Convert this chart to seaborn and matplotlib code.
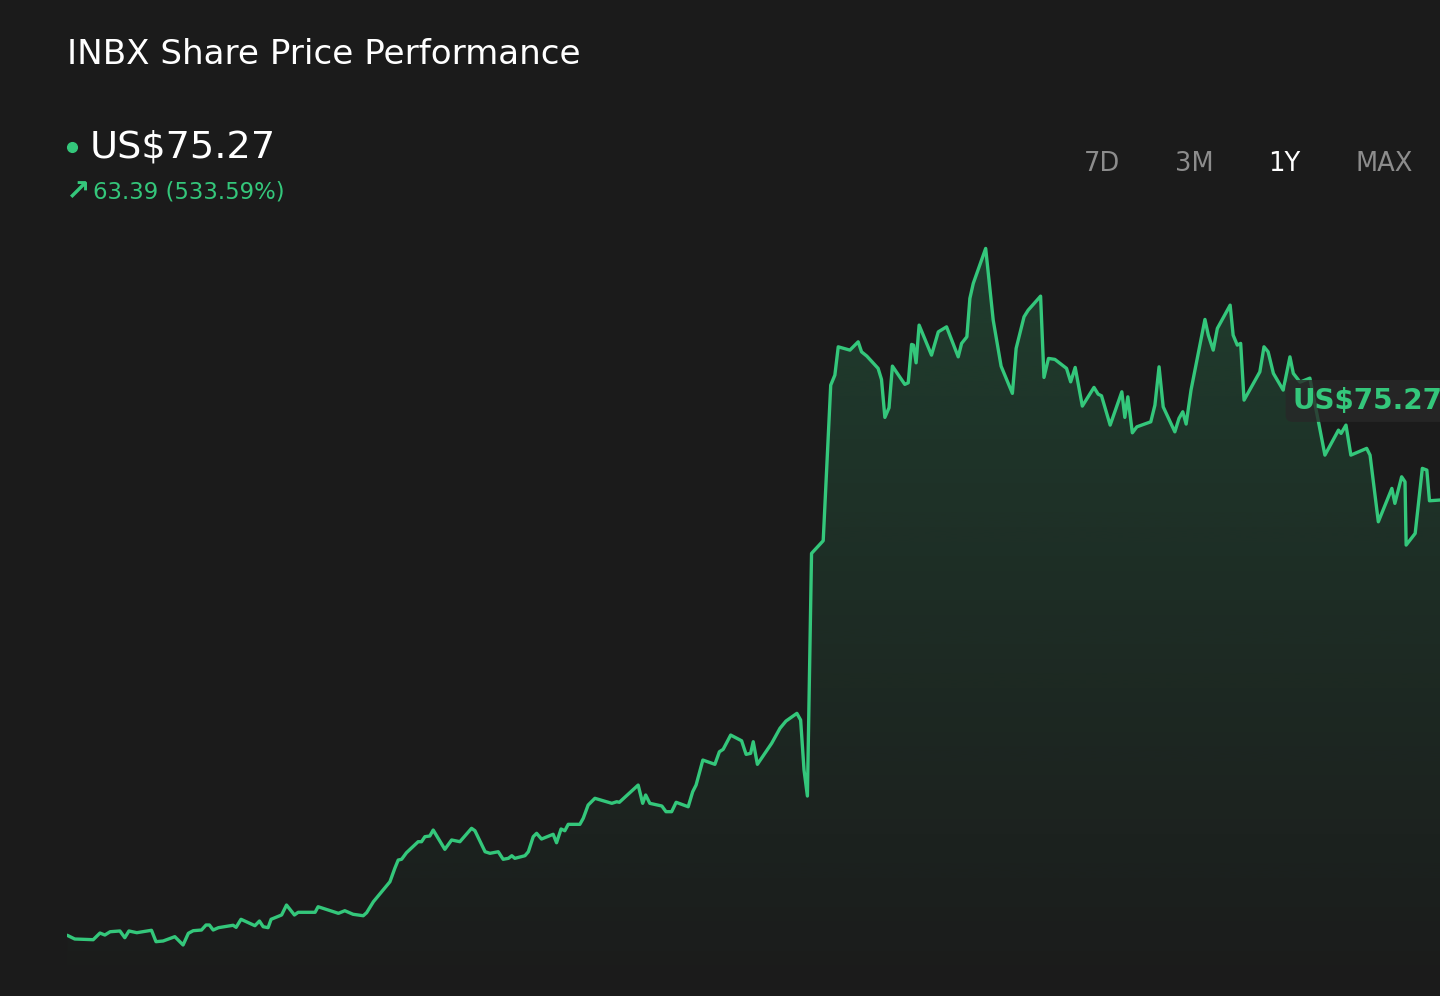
import numpy as np
import pandas as pd
import matplotlib
import matplotlib.pyplot as plt
import seaborn as sns
from matplotlib.lines import Line2D

ticker = "INBX"
last_price = 75.27
change = 63.39
change_pct = 533.59
ranges = ["7D", "3M", "1Y", "MAX"]
active_range = "1Y"

# day offset within the 1Y window
days = [0, 2.0, 6.9, 8.7, 10.0, 11.4, 14.0, 15.3, 16.4, 18.5,
        22.4, 23.6, 25.5, 28.6, 30.8, 32.2, 33.5, 35.7, 36.9, 37.8,
        38.8, 40.2, 44.1, 44.9, 46.2, 49.9, 51.1, 52.1, 53.4, 54.2,
        57.0, 58.3, 60.4, 61.4, 65.9, 66.7, 72.1, 73.8, 76.0, 78.7,
        79.6, 81.4, 85.8, 87.1, 88.0, 88.9, 90.2, 93.3, 94.2, 95.1,
        96.4, 97.3, 100.4, 102.2, 104.4, 107.5, 108.4, 111.1, 112.4, 114.6,
        115.9, 117.3, 118.2, 119.0, 121.7, 122.6, 123.9, 124.8, 126.1, 129.2,
        130.1, 131.3, 132.3, 133.2, 136.3, 137.2, 138.5, 140.3, 144.8, 146.1,
        146.8, 151.8, 153.0, 153.8, 154.9, 158.1, 159.2, 160.7, 161.9, 165.1,
        166.3, 167.2, 169.0, 172.2, 173.4, 174.4, 176.4, 179.3, 180.5, 181.7,
        182.4, 183.5, 187.3, 189.5, 191.1, 194.0, 195.0, 195.9, 196.8, 197.9,
        201.0, 203.0, 204.1, 205.0, 208.1, 210.3, 211.2, 212.6, 215.6, 216.5,
        217.4, 218.5, 219.4, 222.7, 223.6, 224.5, 225.0, 225.7, 226.5, 229.8,
        231.6, 233.8, 236.9, 237.8, 239.2, 240.0, 240.9, 244.2, 246.2, 248.3,
        251.3, 252.3, 254.4, 255.5, 258.8, 259.7, 260.9, 262.6, 265.7, 266.8,
        268.0, 269.9, 273.0, 274.1, 275.0, 277.3, 280.4, 281.2, 282.0, 283.2,
        284.4, 288.1, 289.2, 290.3, 291.4, 294.5, 295.6, 296.6, 297.5, 298.8,
        302.5, 303.4, 304.7, 305.8, 309.2, 310.0, 311.1, 312.0, 312.9, 317.1,
        318.2, 319.3, 320.7, 323.3, 325.1, 326.0, 327.8, 330.4, 332.6, 334.4,
        338.0, 338.7, 340.0, 341.3, 345.5, 346.4, 348.6, 352.2, 353.0, 354.8,
        355.7, 356.0, 358.4, 360.3, 361.5, 362.2, 365]

prices = [11.88, 11.34, 11.24, 12.21, 11.92, 12.40, 12.51, 11.53, 12.51, 12.26,
          12.61, 10.95, 11.05, 11.68, 10.47, 12.17, 12.55, 12.65, 13.38, 13.38,
          12.65, 12.99, 13.34, 13.04, 14.21, 13.28, 13.96, 13.13, 12.99, 14.21,
          14.84, 16.29, 14.84, 15.23, 15.23, 16.04, 15.08, 15.46, 14.94, 14.73,
          15.17, 16.77, 19.68, 21.64, 22.84, 22.95, 23.91, 25.51, 25.51, 26.24,
          26.34, 27.21, 24.40, 25.76, 25.51, 27.46, 27.11, 24.05, 23.82, 24.05,
          22.95, 23.09, 23.47, 23.09, 23.47, 24.05, 26.24, 26.73, 25.90, 26.59,
          25.36, 27.36, 27.11, 28.04, 28.04, 28.92, 30.85, 31.83, 31.10, 31.33,
          31.25, 33.76, 31.10, 32.31, 31.10, 30.71, 29.88, 29.88, 31.25, 30.60,
          32.79, 33.76, 37.40, 36.78, 38.61, 38.96, 41.04, 40.21, 38.23, 38.38,
          40.07, 36.78, 39.84, 42.02, 43.08, 44.20, 43.23, 35.95, 32.16, 67.50,
          69.34, 92.00, 93.46, 97.58, 97.10, 98.31, 96.85, 96.23, 94.44, 92.83,
          87.30, 88.70, 94.77, 92.11, 92.34, 97.93, 97.83, 95.25, 100.74, 96.37,
          99.76, 100.49, 96.12, 98.08, 99.04, 104.63, 106.81, 111.91, 101.47, 94.77,
          90.80, 97.35, 101.95, 102.92, 104.96, 93.12, 95.89, 95.75, 94.44, 92.48,
          94.58, 88.95, 91.67, 90.69, 90.45, 86.18, 91.03, 87.30, 90.30, 85.06,
          85.93, 86.66, 89.09, 94.67, 88.84, 85.20, 87.16, 88.12, 86.33, 91.28,
          101.57, 99.28, 97.10, 100.26, 103.65, 99.28, 97.83, 98.08, 89.82, 93.94,
          97.58, 96.85, 93.71, 91.28, 96.12, 93.71, 92.44, 93.02, 86.91, 81.81,
          85.45, 84.97, 86.18, 81.81, 82.79, 81.81, 72.10, 76.96, 74.78, 78.65,
          77.92, 68.71, 70.41, 79.88, 79.63, 75.16, 75.27]

bg = "#1b1b1b"
green = "#34c77b"
grey = "#8c8c8c"

sns.set_style("dark", {"axes.facecolor": bg, "figure.facecolor": bg})
plt.rcParams["font.family"] = ["DejaVu Sans"]

df = pd.DataFrame({"day": days, "price": prices})

fig = plt.figure(figsize=(14.4, 9.96), dpi=100)
ax = fig.add_axes([0.0467, 0.0, 0.9533, 0.8815])

ymin, ymax = 3.04, 130.9

# gradient fill under the line
poly = ax.fill_between(df["day"], df["price"], ymin, color="none", lw=0)
grad = np.zeros((256, 1, 4))
grad[..., :3] = matplotlib.colors.to_rgb(green)
grad[:, 0, 3] = np.linspace(0.20, 0.0, 256)
im = ax.imshow(grad, extent=[0, 365, ymin, df["price"].max()],
               aspect="auto", origin="upper", zorder=1, interpolation="bilinear")
im.set_clip_path(poly.get_paths()[0], ax.transData)

sns.lineplot(data=df, x="day", y="price", ax=ax, color=green, linewidth=2.4,
             estimator=None, sort=False, zorder=3)
ax.lines[-1].set_solid_joinstyle("round")

ax.set_xlim(0, 365)
ax.set_ylim(ymin, ymax)
ax.set_axis_off()

# last price tag
ax.text(325.8, 89.7, f"US${last_price:.2f}", color=green, fontsize=20,
        fontweight="bold", va="center", ha="left", zorder=5, clip_on=False,
        bbox=dict(boxstyle="round,pad=0.25", fc="#282828", ec="none", alpha=0.8))

# header
fig.text(0.0465, 0.9448, f"{ticker} Share Price Performance", color="white",
         fontsize=24.6, va="center", ha="left")
fig.add_artist(Line2D([0.05], [0.8524], marker="o", markersize=7, color=green,
                      transform=fig.transFigure, lw=0))
fig.text(0.0625, 0.8524, f"US${last_price:.2f}", color="white", fontsize=27.5,
         va="center", ha="left")
fig.text(0.0455, 0.8072, "\u2197", color=green, fontsize=21, fontweight="bold",
         va="center", ha="left")
fig.text(0.0646, 0.8072, f"{change:.2f} ({change_pct:.2f}%)", color=green,
         fontsize=16.4, va="center", ha="left")

btn_x = [1102, 1194, 1284, 1384]
for label, bx in zip(ranges, btn_x):
    fig.text(bx / 1440, 0.8353, label, color="white" if label == active_range else grey,
             fontsize=18.5, va="center", ha="center")

fig.savefig("out.png", dpi=100, facecolor=bg)
